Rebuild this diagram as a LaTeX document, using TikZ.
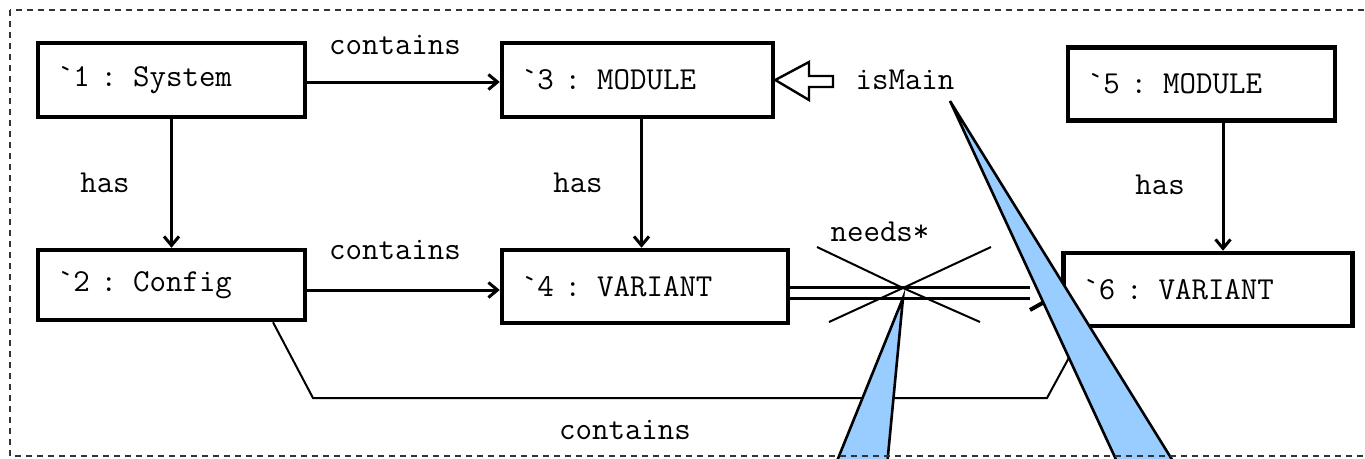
\documentclass[tikz,border=0pt]{standalone}
\usepackage{fontspec}
\usetikzlibrary{arrows.meta,calc}
\definecolor{calloutblue}{HTML}{99CCFF}
\begin{document}
\begin{tikzpicture}[x=1pt,y=-1pt,
  font=\ttfamily\fontsize{32}{36}\selectfont,
  box/.style={draw, line width=4.5pt, align=left, inner xsep=19pt, inner ysep=4pt},
  arr/.style={line width=3pt, -{Straight Barb[length=9pt,width=15pt,line width=3pt]}},
  link/.style={line width=2pt},
  lbl/.style={inner sep=0pt},
  wedge/.style={draw, line width=2.6pt, fill=calloutblue, line join=miter}]
\useasboundingbox (0,0) rectangle (1365,458);

% object boxes
\node[box, text width=229pt, minimum height=74pt] (n1) at (171.5,80)  {`1 : System};
\node[box, text width=233pt, minimum height=74pt] (n3) at (637.5,80)  {`3 : MODULE};
\node[box, text width=229pt, minimum height=73pt] (n5) at (1201.5,84) {`5 : MODULE};
\node[box, text width=229pt, minimum height=70pt] (n2) at (171.5,285) {`2 : Config};
\node[box, text width=248pt, minimum height=73pt] (n4) at (645,286.5) {`4 : VARIANT};
\node[box, text width=251pt, minimum height=73pt] (n6) at (1208,289.5) {`6 : VARIANT};

% labels
\node[lbl] (l13) at (395,45)  {contains};
\node[lbl] (l12) at (105,183) {has};
\node[lbl] (l34) at (578,183) {has};
\node[lbl] (l56) at (1160,185) {has};
\node[lbl] (l24) at (395,250) {contains};
\node[lbl] (l46) at (880,232) {needs*};
\node[lbl] (l26) at (625,430) {contains};
\node[lbl] (main) at (905,80) {isMain};

% plain associations
\draw[arr] ([yshift=-2pt]n1.east) -- ([yshift=-2pt]n1.east -| n3.west);
\draw[arr] (n1.south) -- (n2.north);
\draw[arr] ([xshift=4pt]n3.south) -- ([xshift=4pt]n3.south |- n4.north);
\draw[arr] ([xshift=21.5pt]n5.south) -- ([xshift=21.5pt]n5.south |- n6.north);
\draw[arr] ([yshift=-5pt]n2.east) -- ([yshift=-5pt]n2.east -| n4.west);

% bent link from Config to the second variant
\coordinate (b1) at (313,398);
\coordinate (b2) at (1047,398);
\draw[link] ([xshift=101.5pt]n2.south) -- (b1) -- (b2) -- ([xshift=-123pt]n6.south);

% crossed-out needs* link
\coordinate (needsEnd) at (1030,293);
\draw[line width=3pt, double, double distance=7.5pt] (n4.east |- needsEnd) -- (needsEnd);
\draw[line width=4pt] (1030,310) -- (1062,292);
\coordinate (xc) at (903,288);
\draw[link] (817,247) -- (xc) -- (980,322);
\draw[link] (829,322) -- (xc) -- (991,247);

% isMain marker arrow
\draw[line width=2.4pt, fill=white, line join=miter]
  (n3.east) -- (809,62) -- (809,76) -- (833,76) -- (833,87) -- (809,87) -- (809,100) -- cycle;

% callouts
\coordinate (t1) at (903,298);
\coordinate (t2) at (950,101);
\draw[wedge] (t1) -- (835,466) -- (887,466) -- cycle;
\draw[wedge] (t2) -- (1119,466) -- (1176,466) -- cycle;

% frame
\draw[line width=1.4pt, dash pattern=on 6pt off 5pt, black!80] (10,10) rectangle (1385,456);
\end{tikzpicture}
\end{document}
